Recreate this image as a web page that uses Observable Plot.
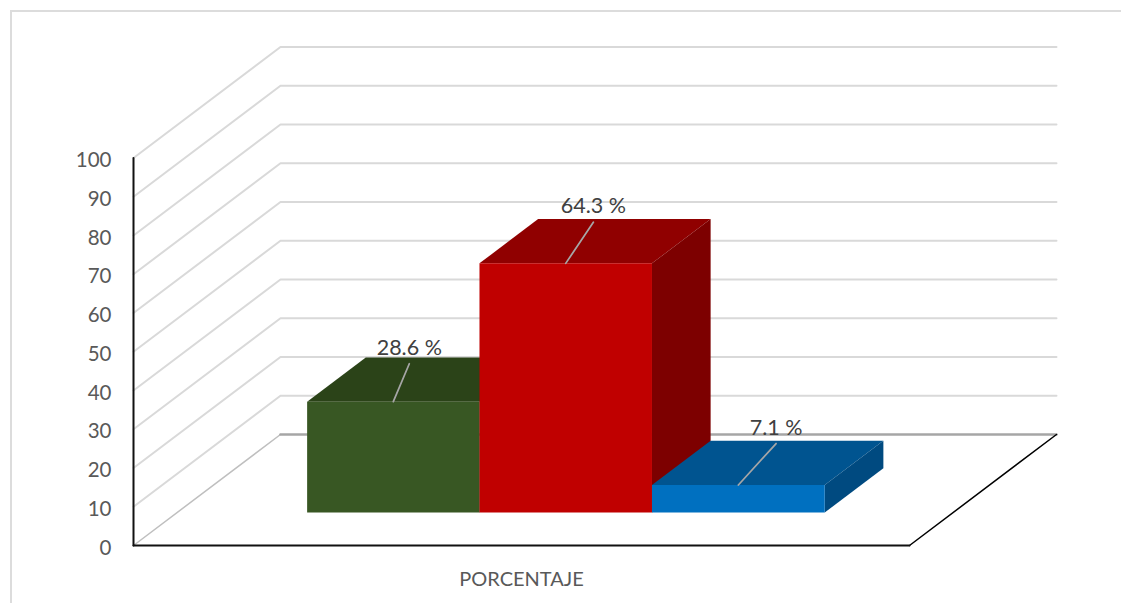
<!DOCTYPE html>
<html>
<head>
<meta charset="utf-8">
<script src="https://cdn.jsdelivr.net/npm/d3@7"></script>
<script src="https://cdn.jsdelivr.net/npm/@observablehq/plot@0.6"></script>
<style>
  html, body { margin: 0; padding: 0; background: #fff; overflow: hidden; }
  #chart { position: absolute; left: 0; top: 0; }
  #outline { position: absolute; left: 10px; top: 10px; right: 0; bottom: 0;
             border-left: 2px solid #dcdcdc; border-top: 2px solid #dcdcdc; }
</style>
</head>
<body>
<div id="outline"></div>
<div id="chart"></div>
<script>
// Values of the single category, one bar per series
const category = "PORCENTAJE";
const values = [28.6, 64.3, 7.1];
const tickValues = [0, 10, 20, 30, 40, 50, 60, 70, 80, 90, 100];

// Bar extents along the category axis (0 to 1 across the floor)
const barStarts = [0.1675, 0.3896, 0.6119];
const barEnds = [0.3896, 0.6119, 0.8345];

// Face colours of each bar
const frontColors = ["#385723", "#c00000", "#0070c0"];
const topColors = ["#2b4318", "#900000", "#005490"];
const sideColors = ["#2b4318", "#7d0000", "#004a80"];

// Leader line ends, relative to the middle of each bar's front top edge
const leaderShiftX = [0.0206, 0.0356, 0.0486];
const leaderShiftY = [9.8, 10.6, 10.7];

// Oblique projection: depth d (0 front, 1 back wall) slides a point right and up
const depthX = 0.1894;
const depthY = 28.65;
const barFront = 0.297;
const barBack = 0.696;
const at = (u, v, d) => ({x: u + d * depthX, y: v + d * depthY});

// Grid: each level runs up the left wall and along the back wall
const gridRows = tickValues.filter((t) => t > 0).flatMap((t) =>
  [at(0, t, 0), at(0, t, 1), at(1, t, 1)].map((p) => ({...p, level: t}))
);

// Three visible faces of every bar, drawn left to right
const faceRows = values.flatMap((v, i) => {
  const a = barStarts[i], b = barEnds[i];
  const faces = [
    ["top", topColors[i], [at(a, v, barFront), at(b, v, barFront), at(b, v, barBack), at(a, v, barBack)]],
    ["side", sideColors[i], [at(b, 0, barFront), at(b, v, barFront), at(b, v, barBack), at(b, 0, barBack)]],
    ["front", frontColors[i], [at(a, 0, barFront), at(b, 0, barFront), at(b, v, barFront), at(a, v, barFront)]]
  ];
  return faces.flatMap(([name, color, pts]) =>
    pts.map((p) => ({...p, key: `${i}-${name}`, color}))
  );
});

// Leader line from each bar to its label, and the label itself
const leaderRows = values.flatMap((v, i) => {
  const mid = (barStarts[i] + barEnds[i]) / 2;
  const start = at(mid, v, barFront);
  return [start, {x: start.x + leaderShiftX[i], y: start.y + leaderShiftY[i]}]
    .map((p) => ({...p, bar: i}));
});
const labelRows = values.map((v, i) => {
  const mid = (barStarts[i] + barEnds[i]) / 2;
  const start = at(mid, v, barFront);
  return {x: start.x + leaderShiftX[i], y: start.y + leaderShiftY[i] + 4.1, text: `${v} %`};
});

const chart = Plot.plot({
  width: 1121,
  height: 603,
  marginLeft: 133,
  marginRight: 212,
  marginTop: 157.5,
  marginBottom: 58,
  style: {background: "transparent", fontFamily: "Lato, sans-serif"},
  x: {domain: [0, 1]},
  y: {domain: [0, 100]},
  color: {type: "identity"},
  marks: [
    Plot.line(gridRows, {x: "x", y: "y", z: "level", stroke: "#d9d9d9", strokeWidth: 2, curve: "linear"}),
    // Floor outline
    Plot.line([at(0, 0, 0), at(0, 0, 1)], {x: "x", y: "y", stroke: "#bfbfbf", strokeWidth: 1.5}),
    Plot.line([at(0, 0, 1), at(1, 0, 1)], {x: "x", y: "y", stroke: "#a6a6a6", strokeWidth: 2.5}),
    Plot.line([at(1, 0, 0), at(1, 0, 1)], {x: "x", y: "y", stroke: "#000", strokeWidth: 1.5}),
    Plot.line([at(0, 0, 0), at(1, 0, 0)], {x: "x", y: "y", stroke: "#111", strokeWidth: 2}),
    Plot.line([at(0, 0, 0), at(0, 100, 0)], {x: "x", y: "y", stroke: "#111", strokeWidth: 2}),
    // Bars
    Plot.line(faceRows, {x: "x", y: "y", z: "key", fill: "color", stroke: "none"}),
    // Data labels
    Plot.line(leaderRows, {x: "x", y: "y", z: "bar", stroke: "#a6a6a6", strokeWidth: 1.75}),
    Plot.text(labelRows, {x: "x", y: "y", text: "text", fill: "#404040", fontSize: 21.5}),
    // Axes
    Plot.axisY({ticks: tickValues, tickSize: 0, tickPadding: 22, dy: 2.5, label: null, fill: "#595959", fontSize: 20.5}),
    Plot.axisX({ticks: [0.5], tickFormat: () => category, tickSize: 0, tickPadding: 26, label: null, fill: "#595959", fontSize: 20})
  ]
});
document.getElementById("chart").append(chart);
</script>
</body>
</html>
